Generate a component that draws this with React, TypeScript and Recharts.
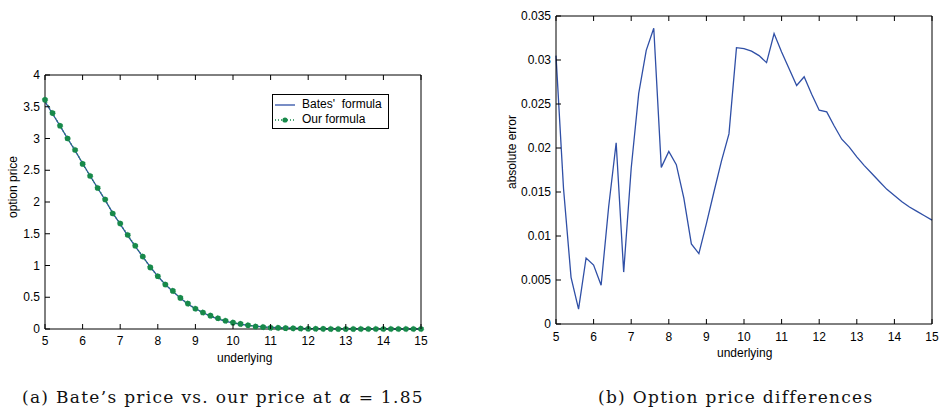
import { LineChart, Line, XAxis, YAxis } from 'recharts';

const underlying = [
  5, 5.2, 5.4, 5.6, 5.8, 6, 6.2, 6.4, 6.6, 6.8, 7, 7.2, 7.4, 7.6, 7.8, 8, 8.2, 8.4, 8.6, 8.8,
  9, 9.2, 9.4, 9.6, 9.8, 10, 10.2, 10.4, 10.6, 10.8, 11, 11.2, 11.4, 11.6, 11.8, 12, 12.2, 12.4,
  12.6, 12.8, 13, 13.2, 13.4, 13.6, 13.8, 14, 14.2, 14.4, 14.6, 14.8, 15,
];

const batesPrice = [
  3.58, 3.39, 3.2, 3.0, 2.81, 2.61, 2.41, 2.22, 2.03, 1.83, 1.65, 1.47, 1.3, 1.14, 0.98, 0.83,
  0.7, 0.59, 0.49, 0.39, 0.32, 0.26, 0.2, 0.16, 0.12, 0.095, 0.075, 0.058, 0.045, 0.035, 0.027,
  0.021, 0.016, 0.012, 0.009, 0.007, 0.005, 0.004, 0.003, 0.002, 0.0015, 0.001, 0.001, 0.0008,
  0.0006, 0.0005, 0.0004, 0.0003, 0.0002, 0.0002, 0.0001,
];

const ourPrice = [
  3.61, 3.4, 3.2, 3.0, 2.82, 2.6, 2.41, 2.22, 2.04, 1.82, 1.66, 1.48, 1.31, 1.14, 0.97, 0.83,
  0.7, 0.6, 0.49, 0.4, 0.32, 0.26, 0.21, 0.17, 0.13, 0.1, 0.08, 0.06, 0.04, 0.03, 0.02, 0.018,
  0.013, 0.01, 0.007, 0.005, 0.003, 0.002, 0.001, 0.001, 0.001, 0.001, 0.0, 0.0, 0.0, 0.0, 0.0,
  0.0, 0.0, 0.0, 0.0,
];

const absError = [
  0.0305, 0.0154, 0.0053, 0.0017, 0.0075, 0.0067, 0.0044, 0.0133, 0.0206, 0.0059, 0.0177,
  0.0262, 0.0311, 0.0336, 0.0178, 0.0196, 0.0181, 0.0143, 0.0091, 0.008, 0.0114, 0.015, 0.0185,
  0.0216, 0.0314, 0.0313, 0.031, 0.0305, 0.0297, 0.033, 0.0309, 0.029, 0.0271, 0.0281, 0.0261,
  0.0243, 0.0241, 0.0225, 0.021, 0.0201, 0.019, 0.018, 0.0171, 0.0162, 0.0153, 0.0146, 0.0139,
  0.0133, 0.0128, 0.0123, 0.0118,
];

const xTicks = [5, 6, 7, 8, 9, 10, 11, 12, 13, 14, 15];
const priceTicks = [0, 0.5, 1, 1.5, 2, 2.5, 3, 3.5, 4];
const errorTicks = [0, 0.005, 0.01, 0.015, 0.02, 0.025, 0.03, 0.035];

const priceData = underlying.map((x, i) => ({ x, bates: batesPrice[i], ours: ourPrice[i] }));
const errorData = underlying.map((x, i) => ({ x, err: absError[i] }));

const FONT = '"Liberation Sans", Arial, Helvetica, sans-serif';
const BLUE = '#2f4fa6';
const GREEN = '#17894a';

const BottomTick = ({ x, y, payload, gap }: any) => (
  <g>
    <line x1={x} y1={y} x2={x} y2={y - 5} stroke="#000" />
    <text x={x} y={y + gap} textAnchor="middle" fontSize={12} fontFamily={FONT} fill="#000">
      {payload.value}
    </text>
  </g>
);

const TopTick = ({ x, y }: any) => <line x1={x} y1={y} x2={x} y2={y + 5} stroke="#000" />;

const LeftTick = ({ x, y, payload }: any) => (
  <g>
    <line x1={x} y1={y} x2={x + 5} y2={y} stroke="#000" />
    <text x={x - 5} y={y + 4} textAnchor="end" fontSize={12} fontFamily={FONT} fill="#000">
      {payload.value}
    </text>
  </g>
);

const RightTick = ({ x, y }: any) => <line x1={x} y1={y} x2={x - 5} y2={y} stroke="#000" />;

// box axes: width/height 1 because recharts skips axes of size 0
const boxAxes = (yDomain: number[], yTicks: number[], gap: number) => [
  <XAxis
    key="b"
    dataKey="x"
    type="number"
    domain={[5, 15]}
    ticks={xTicks}
    interval={0}
    height={1}
    tickSize={0}
    tickMargin={0}
    axisLine={{ stroke: '#000' }}
    tick={(p: any) => <BottomTick {...p} gap={gap} />}
  />,
  <XAxis
    key="t"
    xAxisId="top"
    orientation="top"
    dataKey="x"
    type="number"
    domain={[5, 15]}
    ticks={xTicks}
    interval={0}
    height={1}
    tickSize={0}
    tickMargin={0}
    axisLine={{ stroke: '#000' }}
    tick={TopTick}
  />,
  <YAxis
    key="l"
    type="number"
    domain={yDomain}
    ticks={yTicks}
    interval={0}
    width={1}
    tickSize={0}
    tickMargin={0}
    axisLine={{ stroke: '#000' }}
    tick={LeftTick}
  />,
  <YAxis
    key="r"
    yAxisId="right"
    orientation="right"
    type="number"
    domain={yDomain}
    ticks={yTicks}
    interval={0}
    width={1}
    tickSize={0}
    tickMargin={0}
    axisLine={{ stroke: '#000' }}
    tick={RightTick}
  />,
];

const PriceLegend = () => (
  <div
    style={{
      position: 'absolute',
      left: 272,
      top: 94,
      width: 117,
      height: 35,
      border: '1px solid #000',
      background: '#fff',
      fontFamily: FONT,
      fontSize: 12,
      color: '#000',
      boxSizing: 'border-box',
      padding: '2px 0 0 1px',
      lineHeight: '15px',
    }}
  >
    <div style={{ display: 'flex', alignItems: 'center' }}>
      <svg width={22} height={10}>
        <line x1={1} y1={5} x2={21} y2={5} stroke={BLUE} strokeWidth={1.3} />
      </svg>
      <span style={{ marginLeft: 6 }}>Bates'&nbsp; formula</span>
    </div>
    <div style={{ display: 'flex', alignItems: 'center' }}>
      <svg width={22} height={10}>
        <line x1={1} y1={5} x2={21} y2={5} stroke={GREEN} strokeWidth={1.3} strokeDasharray="1 2" />
        <circle cx={11} cy={5} r={2.6} fill={GREEN} />
      </svg>
      <span style={{ marginLeft: 6 }}>Our formula</span>
    </div>
  </div>
);

const axisTitle: React.CSSProperties = {
  position: 'absolute',
  fontFamily: FONT,
  fontSize: 12,
  color: '#000',
  whiteSpace: 'nowrap',
};

const caption: React.CSSProperties = {
  position: 'absolute',
  fontFamily: '"DejaVu Serif", "Liberation Serif", serif',
  fontSize: 17,
  letterSpacing: 1.3,
  color: '#111',
  whiteSpace: 'nowrap',
};

export default function App() {
  return (
    <div style={{ position: 'absolute', left: 0, top: 0, width: 940, height: 411, background: '#fff' }}>
      <div style={{ position: 'absolute', left: 0, top: 0 }}>
        <LineChart width={440} height={370} data={priceData} margin={{ top: 74, left: 44, right: 18, bottom: 40 }}>
          {boxAxes([0, 4], priceTicks, 16)}
          <Line
            dataKey="bates"
            stroke={BLUE}
            strokeWidth={1.3}
            dot={false}
            type="linear"
            isAnimationActive={false}
          />
          <Line
            dataKey="ours"
            stroke={GREEN}
            strokeWidth={1.3}
            strokeDasharray="1 2"
            dot={{ r: 2.8, fill: GREEN, stroke: GREEN, strokeWidth: 0.5 }}
            type="linear"
            isAnimationActive={false}
          />
        </LineChart>
        <PriceLegend />
      </div>

      <div style={{ position: 'absolute', left: 490, top: 0 }}>
        <LineChart width={450} height={370} data={errorData} margin={{ top: 15, left: 65, right: 7, bottom: 45 }}>
          {boxAxes([0, 0.035], errorTicks, 17)}
          <Line
            dataKey="err"
            stroke={BLUE}
            strokeWidth={1.3}
            dot={false}
            type="linear"
            isAnimationActive={false}
          />
        </LineChart>
      </div>

      <div style={{ ...axisTitle, left: 217, top: 351 }}>underlying</div>
      <div style={{ ...axisTitle, left: 717, top: 346 }}>underlying</div>
      <div style={{ ...axisTitle, left: 13, top: 187, transform: 'translate(-50%, -50%) rotate(-90deg)' }}>
        option price
      </div>
      <div style={{ ...axisTitle, left: 512, top: 152, transform: 'translate(-50%, -50%) rotate(-90deg)' }}>
        absolute error
      </div>

      <div style={{ ...caption, left: 22, top: 387 }}>
        (a) Bate’s price vs. our price at <i>α</i> = 1.85
      </div>
      <div style={{ ...caption, left: 598, top: 387 }}>(b) Option price differences</div>
    </div>
  );
}
